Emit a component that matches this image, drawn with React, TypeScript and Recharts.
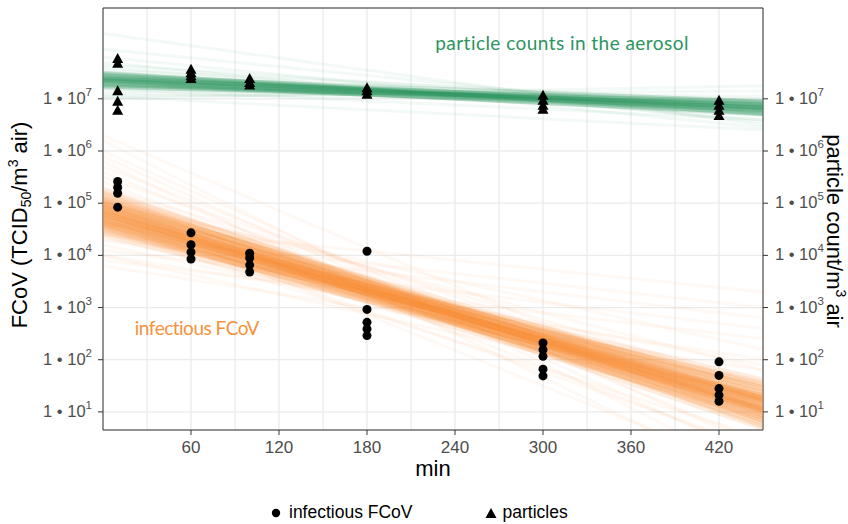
import React from "react";
import {
  ComposedChart,
  Line,
  Scatter,
  XAxis,
  YAxis,
  CartesianGrid,
  ReferenceArea,
  ReferenceDot,
  Legend,
} from "recharts";

// measured samples
const sampleMinutes = [10, 60, 100, 180, 300, 420];

const fcovTiters = [
  [2.6e5, 2.0e5, 1.55e5, 8.4e4],
  [2.7e4, 1.6e4, 1.15e4, 8.5e3],
  [1.1e4, 8.9e3, 6.5e3, 4.8e3],
  [1.2e4, 9.2e2, 5.2e2, 3.9e2, 2.9e2],
  [2.1e2, 1.55e2, 1.16e2, 6.6e1, 4.9e1],
  [9.1e1, 5.0e1, 2.8e1, 2.1e1, 1.6e1],
];

const particleCounts = [
  [5.8e7, 4.7e7, 1.4e7, 8.8e6, 5.9e6],
  [3.6e7, 3.1e7, 2.7e7, 2.4e7],
  [2.4e7, 2.0e7, 1.8e7],
  [1.6e7, 1.4e7, 1.2e7],
  [1.14e7, 9.2e6, 7.4e6, 6.2e6],
  [9.2e6, 7.4e6, 5.9e6, 4.7e6],
];

// fitted decay lines (posterior draws), log10 value at 0 and at 450 min
const fitMinutes = [0, 450];

const fcovFitStart = [
  4.8, 4.9, 4.7, 5.0, 4.6, 5.1, 4.5, 4.95, 4.65, 4.85, 4.75, 5.05, 4.55, 5.15, 4.45, 4.9,
  4.7, 5.2, 4.4, 5.0, 4.6, 4.85, 4.75, 5.08, 4.52, 4.92, 4.68, 4.8, 4.8, 4.98, 4.62, 5.25,
  4.82, 4.78, 4.88, 4.72, 4.96, 4.64, 5.02, 4.58,
];
const fcovFitEnd = [
  1.15, 1.05, 1.25, 1.0, 1.35, 0.9, 1.45, 1.2, 1.1, 0.85, 1.45, 1.25, 1.05, 0.75, 1.55, 1.35,
  0.95, 1.05, 1.25, 1.4, 0.9, 1.25, 1.05, 1.1, 1.2, 0.8, 1.5, 1.3, 1.0, 0.7, 1.6, 0.85,
  1.12, 1.18, 1.08, 1.22, 0.98, 1.3, 1.02, 1.28,
];
const fcovFaintStart = [
  5.6, 5.9, 4.0, 3.9, 5.4, 4.3, 5.7, 4.2, 5.3, 4.5, 6.0, 4.1, 4.4,
  6.2, 5.8, 4.6, 4.3, 5.5, 4.7, 5.2, 4.0, 5.0, 6.3, 4.9, 3.8, 5.1,
];
const fcovFaintEnd = [
  0.4, 0.1, 2.0, 2.4, 0.7, 1.9, 0.8, 1.5, 1.5, 0.5, 0.3, 2.6, 3.0,
  -0.2, -0.4, 3.3, 2.8, 1.2, 0.3, 0.2, 1.2, 2.2, 0.9, -0.2, 1.8, 1.8,
];

const particleFitStart = [
  7.36, 7.3, 7.42, 7.26, 7.46, 7.33, 7.39, 7.24, 7.48, 7.36,
  7.31, 7.41, 7.28, 7.44, 7.35, 7.38, 7.22, 7.5, 7.34, 7.4,
];
const particleFitEnd = [
  6.83, 6.88, 6.78, 6.9, 6.76, 6.8, 6.86, 6.84, 6.82, 6.93,
  6.73, 6.89, 6.78, 6.95, 6.7, 6.84, 6.96, 6.71, 6.87, 6.79,
];
const particleFaintStart = [
  7.6, 7.7, 7.15, 7.05, 7.55, 7.2, 7.65, 7.1, 7.8, 7.0, 7.95, 8.25, 7.05, 7.5, 7.25,
];
const particleFaintEnd = [
  6.6, 6.45, 7.05, 7.15, 6.95, 6.6, 6.85, 6.95, 6.55, 7.25, 6.7, 6.5, 6.4, 6.7, 7.0,
];

const majorMinutes = [60, 120, 180, 240, 300, 360, 420];
const gridMinutes = [30, 60, 90, 120, 150, 180, 210, 240, 270, 300, 330, 360, 390, 420];
const powerTicks = [1e1, 1e2, 1e3, 1e4, 1e5, 1e6, 1e7];
const yDomain = [4.5, 5.5e8];

const GREEN = "#2C9460";
const ORANGE = "#F7913A";
const AXIS_FONT = "'Liberation Sans', Arial, Helvetica, sans-serif";
const NOTE_FONT = "Lato, 'Open Sans', sans-serif";

const fcovPoints = sampleMinutes.flatMap((m, i) =>
  fcovTiters[i].map((v) => ({ min: m, value: v }))
);
const particlePoints = sampleMinutes.flatMap((m, i) =>
  particleCounts[i].map((v) => ({ min: m, value: v }))
);

const fitRows = fitMinutes.map((m, j) => {
  const row: Record<string, number> = { min: m };
  fcovFitStart.forEach((s, i) => (row[`o${i}`] = 10 ** (j === 0 ? s : fcovFitEnd[i])));
  fcovFaintStart.forEach((s, i) => (row[`of${i}`] = 10 ** (j === 0 ? s : fcovFaintEnd[i])));
  particleFitStart.forEach((s, i) => (row[`g${i}`] = 10 ** (j === 0 ? s : particleFitEnd[i])));
  particleFaintStart.forEach((s, i) => (row[`gf${i}`] = 10 ** (j === 0 ? s : particleFaintEnd[i])));
  return row;
});

const PowerTick = (props: any) => {
  const { x, y, payload, textAnchor } = props;
  const exp = Math.round(Math.log10(payload.value));
  return (
    <text x={x} y={y} dy={5} textAnchor={textAnchor} fontSize={16.5} fill="#4d4d4d" fontFamily={AXIS_FONT}>
      1 • 10
      <tspan dy={-8} fontSize={11.5}>
        {exp}
      </tspan>
    </text>
  );
};

const MinuteTick = (props: any) => {
  const { x, y, payload } = props;
  if (!majorMinutes.includes(payload.value)) return null;
  return (
    <g>
      <line x1={x} x2={x} y1={y - 8} y2={y - 3} stroke="#333" />
      <text x={x} y={y} dy={15} textAnchor="middle" fontSize={17} fill="#4d4d4d" fontFamily={AXIS_FONT}>
        {payload.value}
      </text>
    </g>
  );
};

const Circle = (p: any) => <circle cx={p.cx} cy={p.cy} r={4.5} fill="#000" />;
const Triangle = (p: any) => (
  <polygon
    points={`${p.cx},${p.cy - 6} ${p.cx - 5.5},${p.cy + 4} ${p.cx + 5.5},${p.cy + 4}`}
    fill="#000"
  />
);

const renderLegend = () => (
  <div
    style={{
      display: "flex",
      alignItems: "center",
      paddingLeft: 271,
      fontFamily: AXIS_FONT,
      fontSize: 17.5,
      color: "#000",
    }}
  >
    <svg width={12} height={12} style={{ marginRight: 6 }}>
      <circle cx={5} cy={6} r={4.2} fill="#000" />
    </svg>
    <span>infectious FCoV</span>
    <svg width={12} height={12} style={{ marginLeft: 72, marginRight: 6 }}>
      <polygon points="6,1 0.5,11 11.5,11" fill="#000" />
    </svg>
    <span>particles</span>
  </div>
);

const fitLine = (key: string, axis: string, color: string, opacity: number, width: number) => (
  <Line
    key={key}
    yAxisId={axis}
    dataKey={key}
    stroke={color}
    strokeOpacity={opacity}
    strokeWidth={width}
    dot={false}
    activeDot={false}
    legendType="none"
    isAnimationActive={false}
  />
);

export default function App() {
  return (
    <div style={{ position: "absolute", left: 0, top: 0, background: "#fff" }}>
      <ComposedChart
        width={848}
        height={524}
        data={fitRows}
        margin={{ top: 8, right: 0, bottom: 44, left: 0 }}
      >
        <CartesianGrid yAxisId="left" stroke="#ebebeb" strokeWidth={1.3} />
        <XAxis
          dataKey="min"
          type="number"
          domain={[0, 450]}
          allowDataOverflow
          ticks={gridMinutes}
          tick={<MinuteTick />}
          tickLine={false}
          axisLine={false}
          tickSize={5}
          tickMargin={3}
          height={50}
          label={{
            content: ({ viewBox }: any) => (
              <text
                x={viewBox.x + viewBox.width / 2}
                y={viewBox.y + 46}
                textAnchor="middle"
                fontSize={22}
                fill="#000"
                fontFamily={AXIS_FONT}
              >
                min
              </text>
            ),
          }}
        />
        <YAxis
          yAxisId="left"
          type="number"
          scale="log"
          domain={yDomain}
          allowDataOverflow
          ticks={powerTicks}
          tick={<PowerTick />}
          tickSize={5}
          tickMargin={6}
          tickLine={{ stroke: "#333" }}
          axisLine={false}
          width={103}
          label={{
            content: ({ viewBox }: any) => {
              const cx = viewBox.x + 27;
              const cy = viewBox.y + viewBox.height / 2 + 6;
              return (
                <text
                  x={cx}
                  y={cy}
                  textAnchor="middle"
                  transform={`rotate(-90, ${cx}, ${cy})`}
                  fontSize={22}
                  fill="#000"
                  fontFamily={AXIS_FONT}
                >
                  FCoV (TCID
                  <tspan dy={4} fontSize={14}>50</tspan>
                  <tspan dy={-4}>/m</tspan>
                  <tspan dy={-9} fontSize={14}>3</tspan>
                  <tspan dy={9}> air)</tspan>
                </text>
              );
            },
          }}
        />
        <YAxis
          yAxisId="right"
          orientation="right"
          type="number"
          scale="log"
          domain={yDomain}
          allowDataOverflow
          ticks={powerTicks}
          tick={<PowerTick />}
          tickSize={5}
          tickMargin={7}
          tickLine={{ stroke: "#333" }}
          axisLine={false}
          width={85}
          label={{
            content: ({ viewBox }: any) => {
              const cx = viewBox.x + 64;
              const cy = viewBox.y + viewBox.height / 2 + 12;
              return (
                <text
                  x={cx}
                  y={cy}
                  textAnchor="middle"
                  transform={`rotate(90, ${cx}, ${cy})`}
                  fontSize={22}
                  fill="#000"
                  fontFamily={AXIS_FONT}
                >
                  particle count/m
                  <tspan dy={-9} fontSize={14}>3</tspan>
                  <tspan dy={9}> air</tspan>
                </text>
              );
            },
          }}
        />

        {fcovFaintStart.map((_, i) => fitLine(`of${i}`, "left", ORANGE, 0.05, 3))}
        {fcovFitStart.map((_, i) => fitLine(`o${i}`, "left", ORANGE, 0.16, 6))}
        {particleFaintStart.map((_, i) => fitLine(`gf${i}`, "right", GREEN, 0.06, 3))}
        {particleFitStart.map((_, i) => fitLine(`g${i}`, "right", GREEN, 0.2, 4))}

        <Scatter name="infectious FCoV" yAxisId="left" data={fcovPoints} dataKey="value"
          shape={Circle} isAnimationActive={false} />
        <Scatter name="particles" yAxisId="right" data={particlePoints} dataKey="value"
          shape={Triangle} isAnimationActive={false} />

        <ReferenceDot yAxisId="left" x={313} y={1.1e8} r={0}
          shape={(p: any) => (
            <text x={p.cx} y={p.cy} dy={6} textAnchor="middle" fontSize={19} letterSpacing={0.45}
              fill={GREEN} fontFamily={NOTE_FONT}>
              particle counts in the aerosol
            </text>
          )}
        />
        <ReferenceDot yAxisId="left" x={64} y={3.8e2} r={0}
          shape={(p: any) => (
            <text x={p.cx} y={p.cy} dy={6} textAnchor="middle" fontSize={19} letterSpacing={-0.5}
              fill={ORANGE} fontFamily={NOTE_FONT}>
              infectious FCoV
            </text>
          )}
        />
        <ReferenceArea yAxisId="left" x1={0} x2={450} y1={yDomain[0]} y2={yDomain[1]}
          fill="none" stroke="#333" strokeWidth={1} ifOverflow="visible" />

        <Legend verticalAlign="middle" align="center" layout="horizontal" content={renderLegend}
          wrapperStyle={{ top: 502, left: 0, width: 848, height: 22 }} />
      </ComposedChart>
    </div>
  );
}
